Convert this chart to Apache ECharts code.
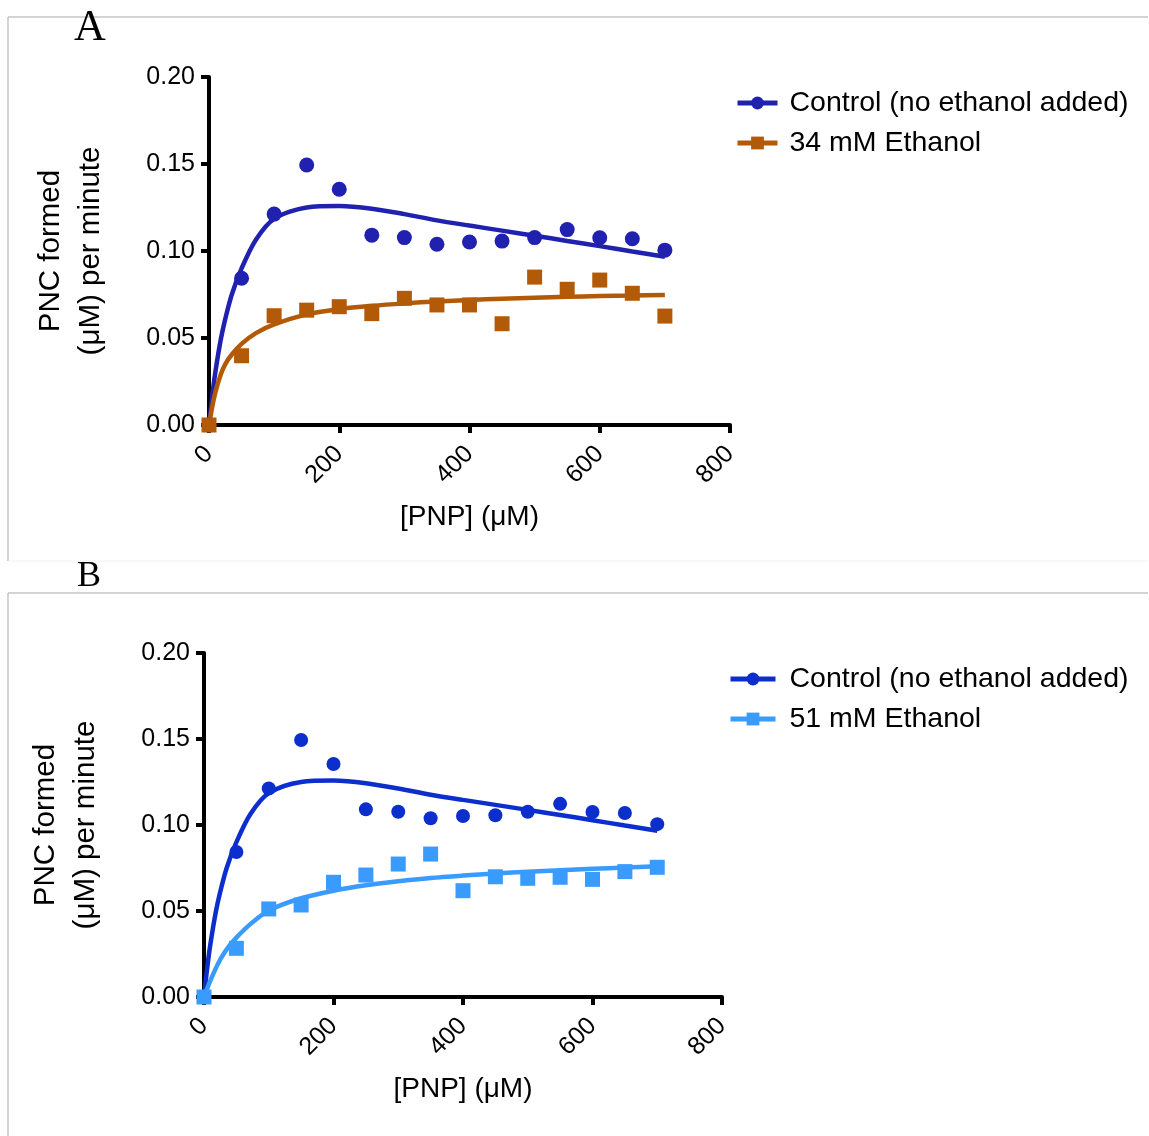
<!DOCTYPE html>
<html>
<head>
<meta charset="utf-8">
<script src="https://cdn.jsdelivr.net/npm/echarts@6/dist/echarts.min.js"></script>
<style>
html,body{margin:0;padding:0;background:#fff;}
#chart{width:1149px;height:1136px;}
</style>
</head>
<body>
<div id="chart"></div>
<script>
// ---- Data ----
const pnp = [0, 50, 100, 150, 200, 250, 300, 350, 400, 450, 500, 550, 600, 650, 700];
const controlRate = [0, 0.0843, 0.1212, 0.1494, 0.1355, 0.1091, 0.1077, 0.1039, 0.1052, 0.1057, 0.1077, 0.1123, 0.1076, 0.1070, 0.1005];
const eth34Rate = [0, 0.0398, 0.0628, 0.0660, 0.0680, 0.0640, 0.0728, 0.0690, 0.0690, 0.0582, 0.0850, 0.0780, 0.0833, 0.0757, 0.0626];
const eth51Rate = [0, 0.0283, 0.0512, 0.0535, 0.0667, 0.0709, 0.0773, 0.0831, 0.0618, 0.0699, 0.0690, 0.0696, 0.0684, 0.0729, 0.0754];

// fitted curves
const fitX = [0, 5, 10, 18, 25, 35, 50, 72, 100, 150, 200, 250, 300, 350, 400, 450, 500, 550, 600, 650, 700];
const controlFit = [0, 0.017, 0.031, 0.049, 0.061, 0.075, 0.090, 0.1065, 0.1185, 0.1250, 0.1258, 0.1243, 0.1212, 0.1176, 0.1146, 0.1117, 0.1088, 0.1058, 0.1028, 0.0997, 0.0967];
const eth34Fit = [0, 0.0105, 0.0190, 0.0290, 0.0350, 0.0405, 0.0466, 0.0528, 0.0578, 0.0636, 0.0666, 0.0685, 0.0699, 0.0710, 0.0719, 0.0726, 0.0732, 0.0737, 0.0741, 0.0744, 0.0747];
const eth51Fit = [0, 0.0050, 0.0097, 0.0165, 0.0217, 0.0277, 0.0345, 0.0425, 0.0503, 0.0574, 0.0618, 0.0650, 0.0673, 0.0692, 0.0706, 0.0718, 0.0728, 0.0737, 0.0745, 0.0753, 0.0760];

const yTicks = ['0.00', '0.05', '0.10', '0.15', '0.20'];
const xTicks = ['0', '200', '400', '600', '800'];

const labels = {
  ctrlA: 'Control (no ethanol added)',
  eth34: '34 mM Ethanol',
  ctrlB: 'Control (no ethanol added)',
  eth51: '51 mM Ethanol'
};

const colA = '#2121b0', colOrange = '#b35a08', colB = '#0b2ecc', colLight = '#3a9bff';
const FONT = "'Liberation Sans', Arial, Helvetica, sans-serif";

function pairs(xs, ys) { return xs.map((x, i) => [x, ys[i]]); }

function xAxis(gi) {
  return {
    gridIndex: gi, type: 'value', min: 0, max: 800, interval: 200,
    name: '[PNP] (\u03bcM)', nameLocation: 'middle', nameGap: 78,
    nameTextStyle: { fontFamily: FONT, fontSize: 28, color: '#000' },
    axisLine: { show: true, lineStyle: { color: '#000', width: 4 } },
    axisTick: { show: true, length: 8, lineStyle: { color: '#000', width: 4 } },
    axisLabel: { rotate: 45, margin: 25, fontFamily: FONT, fontSize: 25, color: '#000',
      formatter: v => xTicks[v / 200] },
    splitLine: { show: false }
  };
}
function yAxis(gi) {
  return {
    gridIndex: gi, type: 'value', min: 0, max: 0.2, interval: 0.05,
    name: 'PNC formed\n(\u03bcM) per minute', nameLocation: 'middle', nameGap: 98, nameRotate: 90,
    nameTextStyle: { fontFamily: FONT, fontSize: 29.5, color: '#000', lineHeight: 40 },
    axisLine: { show: true, lineStyle: { color: '#000', width: 4 } },
    axisTick: { show: true, length: 8, lineStyle: { color: '#000', width: 4 } },
    axisLabel: { margin: 14, fontFamily: FONT, fontSize: 25, color: '#000',
      formatter: v => yTicks[Math.round(v / 0.05)] },
    splitLine: { show: false }
  };
}
function curve(name, gi, ys, color, sym) {
  return { name, type: 'line', xAxisIndex: gi, yAxisIndex: gi, data: pairs(fitX, ys),
    smooth: 0.3, showSymbol: false, symbol: sym, symbolSize: 12,
    lineStyle: { color, width: 4.5 }, itemStyle: { color }, z: 3, silent: true };
}
function points(name, gi, ys, color, sym, size) {
  return { name, type: 'scatter', xAxisIndex: gi, yAxisIndex: gi, data: pairs(pnp, ys),
    symbol: sym, symbolSize: size, itemStyle: { color, opacity: 1 }, clip: false, z: 4 };
}
function legend(top, left, names, w, pad) {
  return { top, left, orient: 'vertical', data: names, itemWidth: w, itemHeight: 16, itemGap: 10,
    formatter: n => labels[n], selectedMode: false,
    lineStyle: { width: 5 },
    textStyle: { fontFamily: FONT, fontSize: 28.5, lineHeight: 30, color: '#000', padding: [0, 0, 0, pad] } };
}

const chart = echarts.init(document.getElementById('chart'));
chart.setOption({
  backgroundColor: '#fff',
  animation: false,
  grid: [
    { left: 209, top: 77, width: 521, height: 348 },
    { left: 204, top: 653, width: 518, height: 344 }
  ],
  xAxis: [xAxis(0), xAxis(1)],
  yAxis: [yAxis(0), yAxis(1)],
  legend: [
    legend(83, 730, ['ctrlA', 'eth34'], 40, 7),
    legend(659, 723, ['ctrlB', 'eth51'], 45, 9)
  ],
  series: [
    curve('ctrlA', 0, controlFit, colA, 'circle'),
    curve('eth34', 0, eth34Fit, colOrange, 'rect'),
    points('ctrlA', 0, controlRate, colA, 'circle', 15),
    points('eth34', 0, eth34Rate, colOrange, 'rect', 15),
    curve('ctrlB', 1, controlFit, colB, 'circle'),
    curve('eth51', 1, eth51Fit, colLight, 'rect'),
    points('ctrlB', 1, controlRate, colB, 'circle', 14),
    points('eth51', 1, eth51Rate, colLight, 'rect', 15)
  ],
  graphic: [
    { type: 'line', shape: { x1: 8, y1: 17, x2: 1148, y2: 17 }, style: { stroke: '#c4c4c4', lineWidth: 1.5 }, silent: true },
    { type: 'line', shape: { x1: 8, y1: 17, x2: 8, y2: 561 }, style: { stroke: '#c4c4c4', lineWidth: 1.5 }, silent: true },
    { type: 'line', shape: { x1: 8, y1: 561, x2: 1148, y2: 561 }, style: { stroke: '#f0f0f0', lineWidth: 1 }, silent: true },
    { type: 'line', shape: { x1: 8, y1: 593, x2: 1148, y2: 593 }, style: { stroke: '#c4c4c4', lineWidth: 1.5 }, silent: true },
    { type: 'line', shape: { x1: 8, y1: 593, x2: 8, y2: 1136 }, style: { stroke: '#c4c4c4', lineWidth: 1.5 }, silent: true },
    { type: 'text', left: 74, top: 6, style: { text: 'A', font: "44px 'Liberation Serif', 'Times New Roman', serif", fill: '#000' }, silent: true },
    { type: 'text', left: 77, top: 559, style: { text: 'B', font: "36px 'Liberation Serif', 'Times New Roman', serif", fill: '#000' }, silent: true }
  ]
});
</script>
</body>
</html>
